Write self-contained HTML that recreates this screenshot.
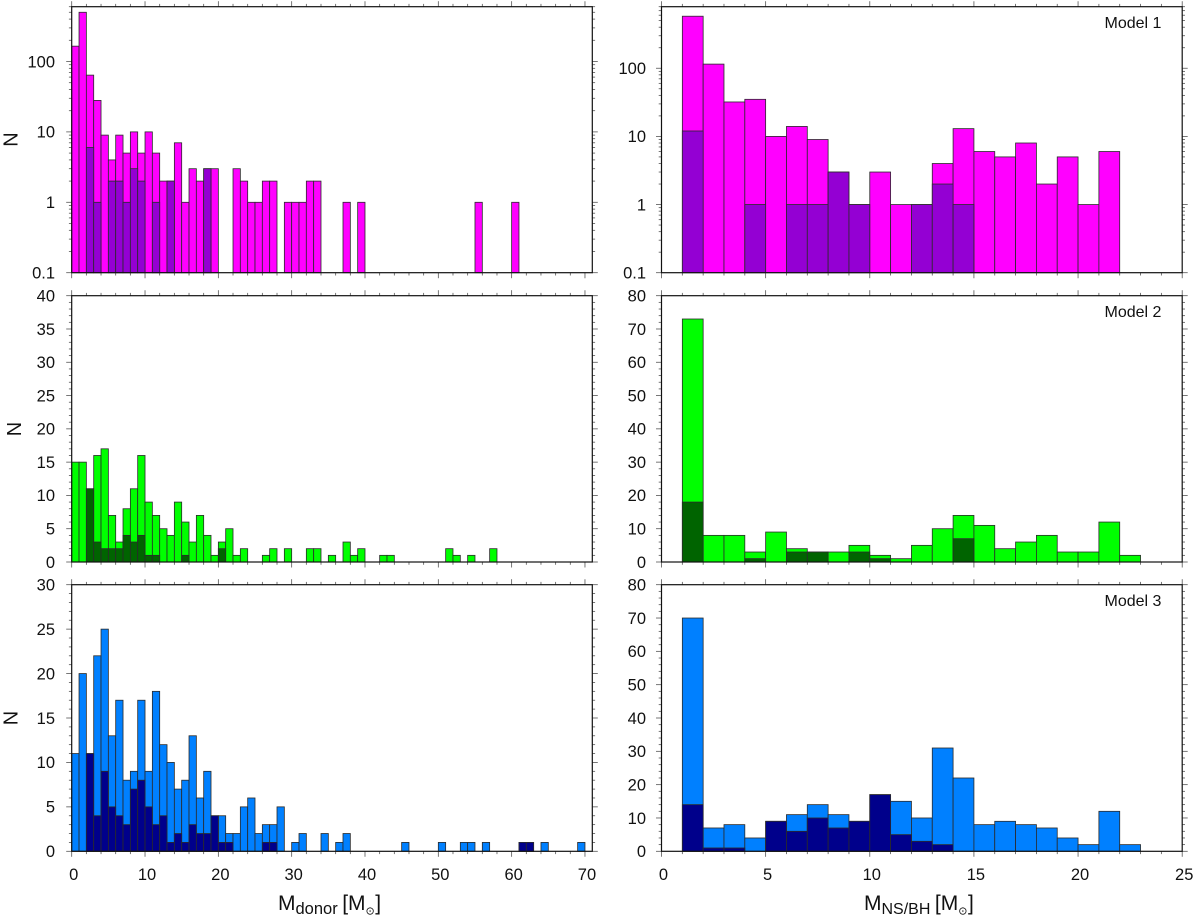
<!DOCTYPE html>
<html lang="en">
<head>
<meta charset="utf-8">
<title>Mass histograms for three models</title>
<style>
html,body{margin:0;padding:0;background:#fff;}
svg{display:block;font-family:"Liberation Sans",Arial,sans-serif;}
</style>
</head>
<body>
<svg id="chart" width="1200" height="921" viewBox="0 0 1200 921" xmlns="http://www.w3.org/2000/svg">
<text x="278" y="910" font-size="21" fill="#111">M<tspan font-size="16.5" dy="4">donor</tspan><tspan dy="-4" dx="4.5">[M</tspan><tspan font-size="11" dy="4.5">⊙</tspan><tspan dy="-4.5" dx="0.5">]</tspan></text>
<text x="864" y="910" font-size="21" fill="#111">M<tspan font-size="16" dy="4">NS/BH</tspan><tspan dy="-4" dx="4.5">[M</tspan><tspan font-size="11" dy="4.5">⊙</tspan><tspan dy="-4.5" dx="0.5">]</tspan></text>
<text transform="translate(17.5 139.5) rotate(-90)" text-anchor="middle" font-size="20" fill="#111">N</text>
<text transform="translate(21 429) rotate(-90)" text-anchor="middle" font-size="20" fill="#111">N</text>
<text transform="translate(17.5 718) rotate(-90)" text-anchor="middle" font-size="20" fill="#111">N</text>
<text x="1104.5" y="28" font-size="16" fill="#111">Model 1</text>
<text x="1104.5" y="317" font-size="16" fill="#111">Model 2</text>
<text x="1104.5" y="606" font-size="16" fill="#111">Model 3</text>
</svg>
<script>
// Bin lower edges are the array index (bins are 1 solar mass wide).
const donorM1All = [165,500,64,28,9,4,9,5,10,5,10,5,2,2,7,1,3,2,3,3,0,0,3,2,1,1,2,2,0,1,1,1,2,2,0,0,0,1,0,1,0,0,0,0,0,0,0,0,0,0,0,0,0,0,0,1,0,0,0,0,1];
const donorM1Sub = [0,0,6,1,0,2,2,1,3,2,0,1,0,2,0,0,0,0,3];
const donorM2All = [15,15,11,16,17,7,3,8,11,16,9,7,5,4,9,6,3,7,4,1,3,5,1,2,0,0,1,2,0,2,0,0,2,2,0,1,0,3,1,2,0,0,1,1,0,0,0,0,0,0,0,2,1,0,1,0,0,2];
const donorM2Sub = [0,0,11,3,2,2,2,4,3,4,1,1,0,0,0,1,0,0,0,0,2];
const donorM3All = [11,20,11,22,25,13,17,8,9,17,9,18,12,10,7,8,13,6,9,4,4,2,2,5,6,2,3,3,5,0,1,2,0,0,2,0,1,2,0,0,0,0,0,0,0,1,0,0,0,0,1,0,0,1,1,0,1,0,0,0,0,1,1,0,1,0,0,0,0,1];
const donorM3Sub = [0,0,11,4,9,5,4,3,7,8,5,3,4,1,2,1,3,2,2,4,1,1,0,0,0,0,1,1,0,0,0,0,0,0,0,0,0,0,0,0,0,0,0,0,0,0,0,0,0,0,0,0,0,0,0,0,0,0,0,0,0,1,1];
const compactM1All = [0,580,115,32,35,10,14,9,3,1,3,1,1,4,13,6,5,8,2,5,1,6];
const compactM1Sub = [0,12,0,0,1,0,1,1,3,1,0,0,1,2,1];
const compactM2All = [0,73,8,8,3,9,4,3,3,5,2,1,5,10,14,11,4,6,8,3,3,12,2];
const compactM2Sub = [0,18,0,0,1,0,3,3,0,3,1,0,0,0,7];
const compactM3All = [0,70,7,8,4,9,11,14,11,9,17,15,10,31,22,8,9,8,7,4,2,12,2];
const compactM3Sub = [0,14,1,1,0,9,6,10,7,9,17,5,3,2];

const donorTicks = [0,10,20,30,40,50,60,70];
const compactTicks = [0,5,10,15,20,25];
const logTicks = [0.1,1,10,100];
const countTicks40 = [0,5,10,15,20,25,30,35,40];
const countTicks30 = [0,5,10,15,20,25,30];
const countTicks80 = [0,10,20,30,40,50,60,70,80];

const NS = 'http://www.w3.org/2000/svg';
const svg = document.getElementById('chart');
const leftFrame = {x0:71.7, x1:592.3, xMax:71, xMinor:2, labelEnd:55};
const rightFrame = {x0:661.5, x1:1182.2, xMax:25, xMinor:1, labelEnd:646};
const rows = [{top:6.7, bottom:272.7},{top:295.7, bottom:562},{top:584.7, bottom:851.3}];

function makeLine(parent, x1, y1, x2, y2, color, width) {
  const el = document.createElementNS(NS, 'line');
  
  
  el.setAttribute('x1', x1); el.setAttribute('y1', y1);
  el.setAttribute('x2', x2); el.setAttribute('y2', y2);
  el.setAttribute('stroke', color); el.setAttribute('stroke-width', width);
  parent.appendChild(el);
}
function makeLabel(parent, x, y, txt, anchor) {
  const el = document.createElementNS(NS, 'text');
  
  
  el.setAttribute('x', x); el.setAttribute('y', y);
  el.setAttribute('text-anchor', anchor);
  el.setAttribute('font-size', '16.5');
  el.setAttribute('fill', '#111');
  el.textContent = txt;
  parent.appendChild(el);
}
function drawBars(parent, values, fill, kind, xScale, yScale, base) {
  values.forEach(function (v, i) {
    if (!v) return;
    const el = document.createElementNS(NS, 'rect');
    
    
    const top = yScale(v);
    el.setAttribute('x', xScale(i));
    el.setAttribute('y', top);
    el.setAttribute('width', xScale(i + 1) - xScale(i));
    el.setAttribute('height', base - top);
    el.setAttribute('fill', fill);
    el.setAttribute('stroke', '#2a2a2a');
    el.setAttribute('stroke-width', '0.8');
    parent.appendChild(el);
  });
}
function drawPanel(cfg) {
  const f = cfg.frame, r = rows[cfg.row];
  const g = document.createElementNS(NS, 'g');
  
  
  svg.insertBefore(g, svg.firstChild);
  const xScale = function (v) { return f.x0 + v / f.xMax * (f.x1 - f.x0); };
  let yScale;
  if (cfg.log) {
    const lo = Math.log10(0.1), hi = Math.log10(cfg.yMax);
    yScale = function (v) { return r.bottom - (Math.log10(v) - lo) / (hi - lo) * (r.bottom - r.top); };
  } else {
    yScale = function (v) { return r.bottom - v / cfg.yMax * (r.bottom - r.top); };
  }
  drawBars(g, cfg.all, cfg.light, 'total', xScale, yScale, r.bottom);
  drawBars(g, cfg.sub, cfg.dark, 'subset', xScale, yScale, r.bottom);

  const tc = '#555';
  // x ticks on top and bottom
  for (let v = 0; v <= f.xMax + 1e-6; v += f.xMinor) {
    const major = cfg.xTicks.indexOf(v) >= 0;
    const len = major ? 5.5 : 2.8;
    const x = xScale(v);
    makeLine(g, x, r.bottom, x, r.bottom + len, tc, 0.8);
    makeLine(g, x, r.top, x, r.top - len, tc, 0.8);
  }
  // y ticks on left and right
  const drawY = function (val, major) {
    const y = yScale(val), len = major ? 5.5 : 2.8;
    makeLine(g, f.x0, y, f.x0 - len, y, tc, 0.8);
    makeLine(g, f.x1, y, f.x1 + len, y, tc, 0.8);
  };
  if (cfg.log) {
    for (let d = 0.1; d < cfg.yMax; d *= 10) {
      for (let m = 1; m <= 9; m++) {
        const val = d * m;
        if (val <= cfg.yMax * 1.0001) drawY(val, m === 1);
      }
    }
  } else {
    const maj = cfg.yTicks[1] - cfg.yTicks[0];
    const step = maj / 5;
    for (let k = 0; k * step <= cfg.yMax + 1e-6; k++) drawY(k * step, k % 5 === 0);
  }
  // frame
  const frame = document.createElementNS(NS, 'rect');
  
  
  frame.setAttribute('x', f.x0); frame.setAttribute('y', r.top);
  frame.setAttribute('width', f.x1 - f.x0); frame.setAttribute('height', r.bottom - r.top);
  frame.setAttribute('fill', 'none');
  frame.setAttribute('stroke', '#111');
  frame.setAttribute('stroke-width', '1.2');
  g.appendChild(frame);
  // labels
  cfg.yTicks.forEach(function (v) {
    makeLabel(g, f.labelEnd, yScale(v) + 5.8, String(v), 'end');
  });
  if (cfg.row === 2) {
    cfg.xTicks.forEach(function (v) {
      makeLabel(g, xScale(v) + 2, 880, String(v), 'middle');
    });
  }
}

const magenta = '#ff00ff', purple = '#9400d3', green = '#00ff00', darkGreen = '#006400', blue = '#0080ff', navy = '#00008b';
drawPanel({name:'donor-mass-model-1', frame:leftFrame, row:0, log:true, yMax:600, all:donorM1All, sub:donorM1Sub, light:magenta, dark:purple, xTicks:donorTicks, yTicks:logTicks});
drawPanel({name:'donor-mass-model-2', frame:leftFrame, row:1, log:false, yMax:40, all:donorM2All, sub:donorM2Sub, light:green, dark:darkGreen, xTicks:donorTicks, yTicks:countTicks40});
drawPanel({name:'donor-mass-model-3', frame:leftFrame, row:2, log:false, yMax:30, all:donorM3All, sub:donorM3Sub, light:blue, dark:navy, xTicks:donorTicks, yTicks:countTicks30});
drawPanel({name:'compact-mass-model-1', frame:rightFrame, row:0, log:true, yMax:800, all:compactM1All, sub:compactM1Sub, light:magenta, dark:purple, xTicks:compactTicks, yTicks:logTicks});
drawPanel({name:'compact-mass-model-2', frame:rightFrame, row:1, log:false, yMax:80, all:compactM2All, sub:compactM2Sub, light:green, dark:darkGreen, xTicks:compactTicks, yTicks:countTicks80});
drawPanel({name:'compact-mass-model-3', frame:rightFrame, row:2, log:false, yMax:80, all:compactM3All, sub:compactM3Sub, light:blue, dark:navy, xTicks:compactTicks, yTicks:countTicks80});
</script>
</body>
</html>
